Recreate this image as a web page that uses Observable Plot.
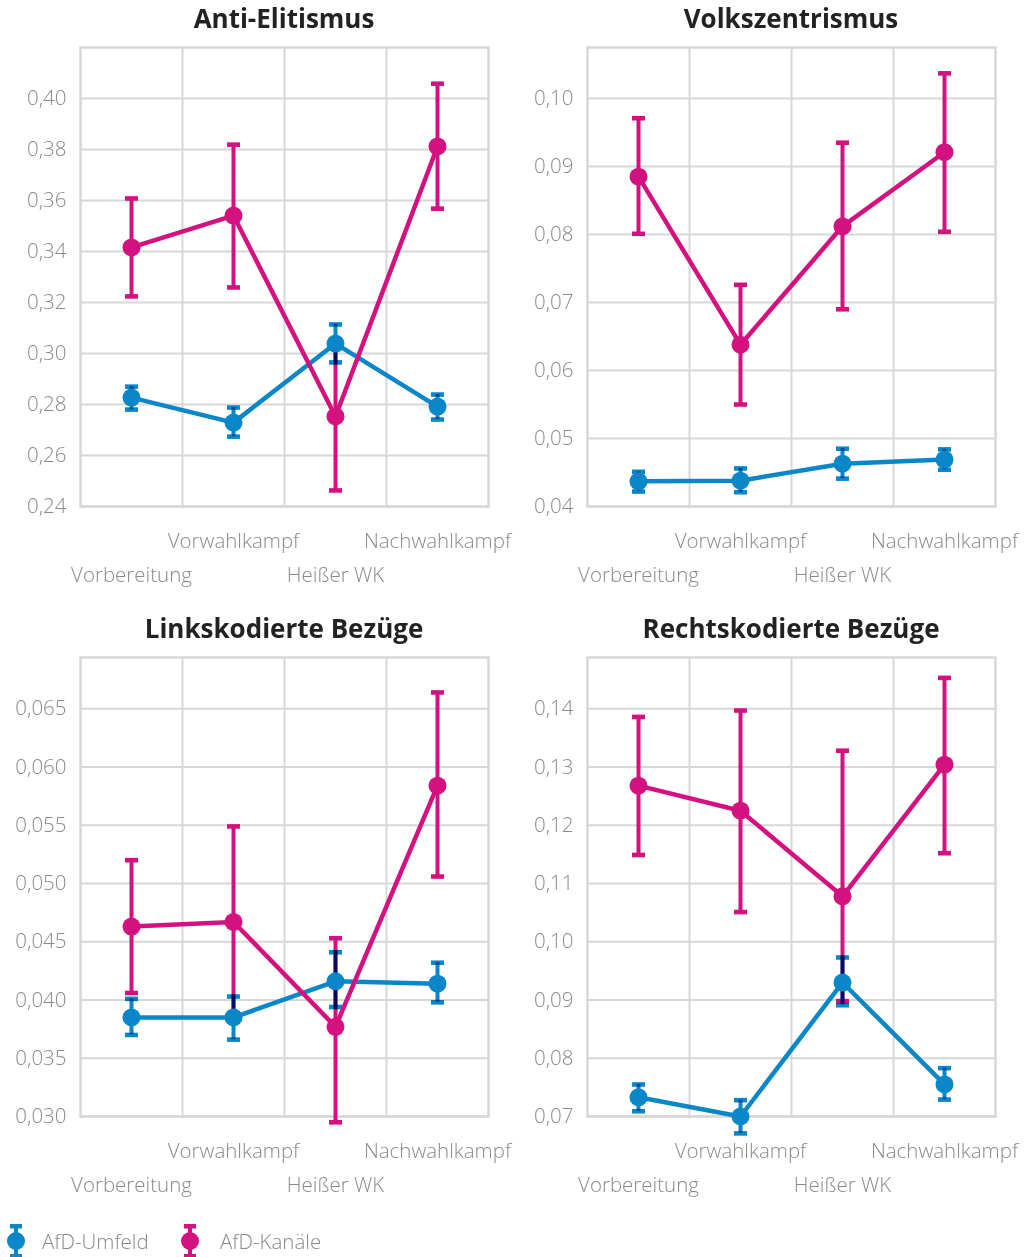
<!DOCTYPE html>
<html>
<head>
<meta charset="utf-8">
<script src="https://cdn.jsdelivr.net/npm/d3@7"></script>
<script src="https://cdn.jsdelivr.net/npm/@observablehq/plot@0.6"></script>
<style>
  body { margin: 0; background: #fff; font-family: "Open Sans", sans-serif; }
  #root { position: relative; width: 1030px; height: 1257px; overflow: hidden; }
  .title { position: absolute; height: 36px; line-height: 36px; text-align: center; font-size: 26px; font-weight: 700; color: #222; white-space: nowrap; }
  .panel { position: absolute; }
  .panel svg { background: transparent !important; overflow: visible; }
  .legend { position: absolute; left: 0; top: 1222px; display: flex; align-items: center; font-size: 20.5px; font-weight: 300; color: #888; }
  .legend .item { display: flex; align-items: center; }
</style>
</head>
<body>
<div id="root"></div>
<script>
// ---------- data ----------
const categories = ["Vorbereitung", "Vorwahlkampf", "Heißer WK", "Nachwahlkampf"];
const seriesNames = ["AfD-Umfeld", "AfD-Kanäle"];
const seriesColors = ["#0a87c8", "#d4127f"];
const panelTitles = ["Anti-Elitismus", "Volkszentrismus", "Linkskodierte Bezüge", "Rechtskodierte Bezüge"];

// Anti-Elitismus
const ae_umfeld_mean = [0.2827, 0.2729, 0.3039, 0.2792];
const ae_umfeld_lo   = [0.2780, 0.2674, 0.2965, 0.2741];
const ae_umfeld_hi   = [0.2870, 0.2788, 0.3114, 0.2839];
const ae_kanaele_mean = [0.3416, 0.3541, 0.2753, 0.3812];
const ae_kanaele_lo   = [0.3224, 0.3259, 0.2463, 0.3568];
const ae_kanaele_hi   = [0.3608, 0.3819, 0.3045, 0.4058];
const ae_domain = [0.24, 0.42];
const ae_ticks = [0.24, 0.26, 0.28, 0.30, 0.32, 0.34, 0.36, 0.38, 0.40];

// Volkszentrismus
const vz_umfeld_mean = [0.0437, 0.0438, 0.0463, 0.0469];
const vz_umfeld_lo   = [0.0422, 0.0421, 0.0441, 0.0454];
const vz_umfeld_hi   = [0.0451, 0.0456, 0.0485, 0.0484];
const vz_kanaele_mean = [0.0885, 0.0638, 0.0812, 0.0921];
const vz_kanaele_lo   = [0.0801, 0.0550, 0.0690, 0.0804];
const vz_kanaele_hi   = [0.0971, 0.0726, 0.0935, 0.1037];
const vz_domain = [0.04, 0.1075];
const vz_ticks = [0.04, 0.05, 0.06, 0.07, 0.08, 0.09, 0.10];

// Linkskodierte Bezüge
const lk_umfeld_mean = [0.0385, 0.0385, 0.0416, 0.0414];
const lk_umfeld_lo   = [0.0370, 0.0366, 0.0394, 0.0398];
const lk_umfeld_hi   = [0.0401, 0.0403, 0.0441, 0.0432];
const lk_kanaele_mean = [0.0463, 0.0467, 0.0377, 0.0584];
const lk_kanaele_lo   = [0.0406, 0.0385, 0.0295, 0.0506];
const lk_kanaele_hi   = [0.0520, 0.0549, 0.0453, 0.0664];
const lk_domain = [0.030, 0.0694];
const lk_ticks = [0.030, 0.035, 0.040, 0.045, 0.050, 0.055, 0.060, 0.065];

// Rechtskodierte Bezüge
const rk_umfeld_mean = [0.0733, 0.0700, 0.0930, 0.0755];
const rk_umfeld_lo   = [0.0709, 0.0671, 0.0891, 0.0729];
const rk_umfeld_hi   = [0.0755, 0.0728, 0.0973, 0.0783];
const rk_kanaele_mean = [0.1268, 0.1225, 0.1078, 0.1304];
const rk_kanaele_lo   = [0.1149, 0.1051, 0.0898, 0.1152];
const rk_kanaele_hi   = [0.1386, 0.1397, 0.1328, 0.1453];
const rk_domain = [0.07, 0.1488];
const rk_ticks = [0.07, 0.08, 0.09, 0.10, 0.11, 0.12, 0.13, 0.14];

const tickDecimals = [2, 2, 3, 2];

// ---------- build ----------
function rows(mean, lo, hi) {
  return categories.map((c, i) => ({cat: c, pos: i + 0.5, mean: mean[i], lo: lo[i], hi: hi[i]}));
}
const panels = [
  {domain: ae_domain, ticks: ae_ticks, umfeld: rows(ae_umfeld_mean, ae_umfeld_lo, ae_umfeld_hi), kanaele: rows(ae_kanaele_mean, ae_kanaele_lo, ae_kanaele_hi)},
  {domain: vz_domain, ticks: vz_ticks, umfeld: rows(vz_umfeld_mean, vz_umfeld_lo, vz_umfeld_hi), kanaele: rows(vz_kanaele_mean, vz_kanaele_lo, vz_kanaele_hi)},
  {domain: lk_domain, ticks: lk_ticks, umfeld: rows(lk_umfeld_mean, lk_umfeld_lo, lk_umfeld_hi), kanaele: rows(lk_kanaele_mean, lk_kanaele_lo, lk_kanaele_hi)},
  {domain: rk_domain, ticks: rk_ticks, umfeld: rows(rk_umfeld_mean, rk_umfeld_lo, rk_umfeld_hi), kanaele: rows(rk_kanaele_mean, rk_kanaele_lo, rk_kanaele_hi)}
];

const capSymbol = {
  draw(ctx) { ctx.moveTo(-6.5, -2.3); ctx.lineTo(6.5, -2.3); ctx.lineTo(6.5, 2.3); ctx.lineTo(-6.5, 2.3); ctx.closePath(); }
};

const gridColor = "#d7d7d7";
const labelColor = "#8a8a8a";
const root = document.getElementById("root");
const positions = [[0, 0], [507, 0], [0, 610], [507, 610]];

function errorMarks(data, color, blend) {
  const extra = blend ? {mixBlendMode: "multiply"} : {};
  return [
    Plot.ruleX(data, {x: "pos", y1: "lo", y2: "hi", stroke: color, strokeWidth: 4, ...extra}),
    Plot.dot(data, {x: "pos", y: "hi", symbol: capSymbol, fill: color, stroke: "none", r: 3, ...extra}),
    Plot.dot(data, {x: "pos", y: "lo", symbol: capSymbol, fill: color, stroke: "none", r: 3, ...extra})
  ];
}

panels.forEach((p, k) => {
  const [left, top] = positions[k];
  const t = document.createElement("div");
  t.className = "title";
  t.style.left = (left + 80) + "px";
  t.style.top = top + "px";
  t.style.width = "408px";
  t.textContent = panelTitles[k];
  root.appendChild(t);

  const fmt = v => v.toFixed(tickDecimals[k]).replace(".", ",");
  const catIdx = categories.map((c, i) => i + 0.5);
  const plot = Plot.plot({
    width: 515,
    height: 550,
    marginLeft: 80,
    marginRight: 27,
    marginTop: 7,
    marginBottom: 84,
    style: {fontFamily: "Open Sans, sans-serif", fontSize: "20.5px", background: "transparent"},
    x: {type: "linear", domain: [0, categories.length], label: null},
    y: {domain: p.domain, label: null},
    marks: [
      Plot.ruleY(p.ticks, {stroke: gridColor, strokeWidth: 2}),
      Plot.ruleX(d3.range(1, categories.length), {stroke: gridColor, strokeWidth: 2}),
      Plot.frame({stroke: gridColor, strokeWidth: 2.5}),
      Plot.axisY({ticks: p.ticks, tickFormat: fmt, tickSize: 0, tickPadding: 14, fill: labelColor, fontWeight: 300, label: null}),
      Plot.axisX({ticks: catIdx.filter((d, i) => i % 2 === 0), tickFormat: d => categories[Math.floor(d)], tickSize: 0, tickPadding: 61, fill: labelColor, fontWeight: 300, label: null}),
      Plot.axisX({ticks: catIdx.filter((d, i) => i % 2 === 1), tickFormat: d => categories[Math.floor(d)], tickSize: 0, tickPadding: 27, fill: labelColor, fontWeight: 300, label: null}),
      ...errorMarks(p.kanaele, seriesColors[1], false),
      ...errorMarks(p.umfeld, seriesColors[0], true),
      Plot.line(p.umfeld, {x: "pos", y: "mean", stroke: seriesColors[0], strokeWidth: 4.5}),
      Plot.line(p.kanaele, {x: "pos", y: "mean", stroke: seriesColors[1], strokeWidth: 4.5}),
      Plot.dot(p.umfeld, {x: "pos", y: "mean", r: 9, fill: seriesColors[0], stroke: "none"}),
      Plot.dot(p.kanaele, {x: "pos", y: "mean", r: 9, fill: seriesColors[1], stroke: "none"})
    ]
  });
  const wrap = document.createElement("div");
  wrap.className = "panel";
  wrap.style.left = left + "px";
  wrap.style.top = (top + 40) + "px";
  wrap.appendChild(plot);
  root.appendChild(wrap);
});

// ---------- legend ----------
const legend = document.createElement("div");
legend.className = "legend";
const legendLeft = [0, 174];
seriesNames.forEach((name, i) => {
  const item = document.createElement("div");
  item.className = "item";
  item.style.position = "absolute";
  item.style.left = legendLeft[i] + "px";
  item.style.top = "0px";
  const c = seriesColors[i];
  item.innerHTML = `<svg width="32" height="38" viewBox="0 0 32 38" style="display:block">
      <rect x="10" y="2" width="12" height="4.5" fill="${c}"/>
      <rect x="10" y="32" width="12" height="4.5" fill="${c}"/>
      <rect x="14" y="2" width="4" height="34" fill="${c}"/>
      <circle cx="16" cy="19" r="9" fill="${c}"/>
    </svg><span style="margin-left:${i === 0 ? 10 : 14}px;white-space:nowrap">${name}</span>`;
  legend.appendChild(item);
});
root.appendChild(legend);
</script>
</body>
</html>
